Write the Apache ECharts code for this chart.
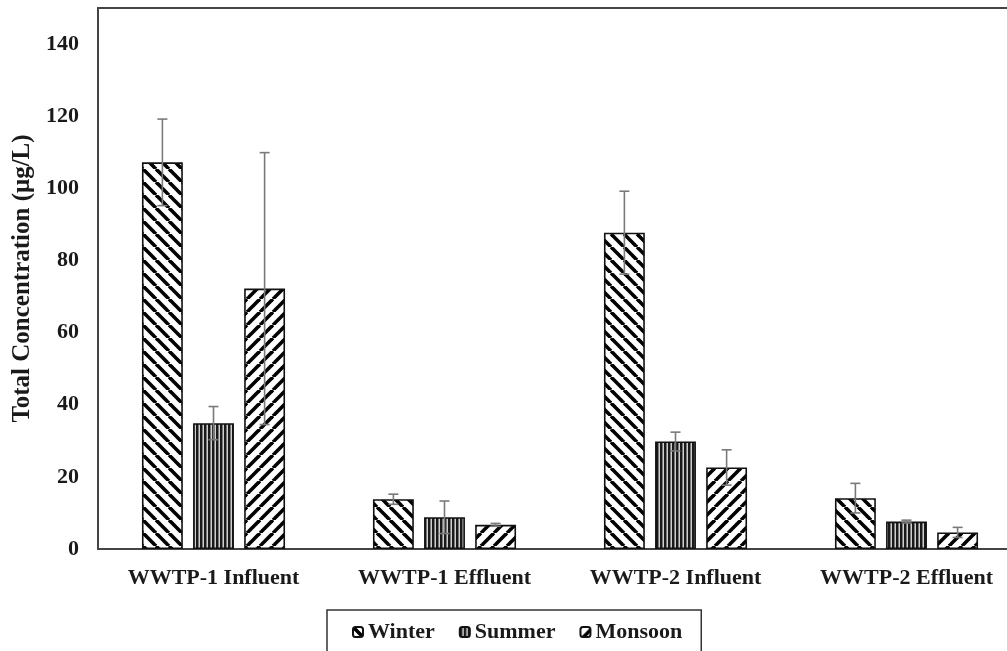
<!DOCTYPE html>
<html>
<head>
<meta charset="utf-8">
<script src="https://cdn.jsdelivr.net/npm/echarts@6/dist/echarts.min.js"></script>
<style>
html,body{margin:0;padding:0;background:#fff;}
#chart{width:1007px;height:651px;}
</style>
</head>
<body>
<div id="chart"></div>
<script>
const categories = ['WWTP-1 Influent', 'WWTP-1 Effluent', 'WWTP-2 Influent', 'WWTP-2 Effluent'];
const seriesNames = ['Winter', 'Summer', 'Monsoon'];
const winter = [107.2, 13.8, 87.7, 14.1];
const winterErr = [12.0, 1.4, 11.5, 4.1];
const summer = [34.9, 8.8, 29.8, 7.6];
const summerErr = [4.6, 4.5, 2.6, 0.4];
const monsoon = [72.2, 6.7, 22.6, 4.6];
const monsoonErr = [37.7, 0.4, 4.9, 1.4];
const yTicks = [0, 20, 40, 60, 80, 100, 120, 140];

const FONT = "'Liberation Serif', 'Times New Roman', serif";

function diagPattern(dir) {
  const p = 13;
  const c = document.createElement('canvas');
  c.width = p; c.height = p;
  const g = c.getContext('2d');
  g.fillStyle = '#fff'; g.fillRect(0, 0, p, p);
  g.strokeStyle = '#000'; g.lineWidth = 3.6;
  for (const s of [-p, 0, p]) {
    g.beginPath();
    if (dir === 'back') { g.moveTo(s, 0); g.lineTo(s + p, p); }
    else { g.moveTo(s, p); g.lineTo(s + p, 0); }
    g.stroke();
  }
  return c;
}
function vertPattern() {
  const c = document.createElement('canvas');
  c.width = 4; c.height = 4;
  const g = c.getContext('2d');
  g.fillStyle = '#cfcfcf'; g.fillRect(0, 0, 4, 4);
  g.fillStyle = '#1a1a1a'; g.fillRect(0, 0, 2, 4);
  g.fillStyle = '#7a7a7a'; g.fillRect(2, 0, 1, 4);
  return c;
}
const patterns = [
  { image: diagPattern('back'), repeat: 'repeat' },
  { image: vertPattern(), repeat: 'repeat' },
  { image: diagPattern('fwd'), repeat: 'repeat' }
];

const BAR_W = 0.177, BAR_GAP = 0.25;

const values = [winter, summer, monsoon];
const errors = [winterErr, summerErr, monsoonErr];

const series = [];
values.forEach((vals, k) => {
  series.push({
    name: seriesNames[k],
    type: 'bar',
    data: vals,
    barWidth: (BAR_W * 100) + '%',
    barGap: (BAR_GAP * 100) + '%',
    itemStyle: { color: patterns[k], borderColor: '#111', borderWidth: 1.6 },
    emphasis: { disabled: true },
    z: 2
  });
});
values.forEach((vals, k) => {
  series.push({
    type: 'custom',
    silent: true,
    z: 10,
    data: vals.map((v, i) => [i, v, errors[k][i]]),
    renderItem: function (params, api) {
      const i = api.value(0), v = api.value(1), e = api.value(2);
      const band = api.size([1, 0])[0];
      const off = (k - 1) * band * BAR_W * (1 + BAR_GAP);
      const top = api.coord([i, v + e]);
      const bot = api.coord([i, v - e]);
      const x = top[0] + off;
      const cap = 5;
      const st = { stroke: '#7a7a7a', lineWidth: 1.6 };
      return {
        type: 'group',
        children: [
          { type: 'line', shape: { x1: x, y1: top[1], x2: x, y2: bot[1] }, style: st },
          { type: 'line', shape: { x1: x - cap, y1: top[1], x2: x + cap, y2: top[1] }, style: st },
          { type: 'line', shape: { x1: x - cap, y1: bot[1], x2: x + cap, y2: bot[1] }, style: st }
        ]
      };
    }
  });
});

const chart = echarts.init(document.getElementById('chart'), null, { renderer: 'canvas' });
chart.setOption({
  animation: false,
  backgroundColor: '#fff',
  grid: {
    left: 98, top: 8, right: -15, bottom: 102,
    outerBoundsMode: 'none',
    containLabel: false,
    show: true, borderColor: '#444', borderWidth: 2, backgroundColor: 'transparent'
  },
  legend: {
    data: seriesNames,
    left: 327, top: 610,
    orient: 'horizontal',
    itemWidth: 10, itemHeight: 10,
    itemGap: 24,
    padding: [11, 19, 20, 25],
    borderColor: '#333', borderWidth: 1.5,
    textStyle: { fontFamily: FONT, fontWeight: 'bold', fontSize: 22, color: '#1a1a1a' }
  },
  xAxis: {
    type: 'category',
    data: categories,
    axisLine: { show: true, lineStyle: { color: '#444', width: 2 } },
    axisTick: { show: false },
    axisLabel: { fontFamily: FONT, fontWeight: 'bold', fontSize: 22, color: '#1a1a1a', margin: 18, interval: 0 }
  },
  yAxis: {
    type: 'value',
    min: yTicks[0], max: 150, interval: yTicks[1] - yTicks[0],
    name: 'Total Concentration (μg/L)',
    nameLocation: 'middle',
    nameGap: 60,
    nameTextStyle: { fontFamily: FONT, fontWeight: 'bold', fontSize: 25, color: '#1a1a1a' },
    axisLine: { show: true, lineStyle: { color: '#444', width: 2 } },
    axisTick: { show: false },
    splitLine: { show: false },
    axisLabel: { fontFamily: FONT, fontWeight: 'bold', fontSize: 22, color: '#1a1a1a', margin: 19, showMaxLabel: false }
  },
  series: series
});
</script>
</body>
</html>
